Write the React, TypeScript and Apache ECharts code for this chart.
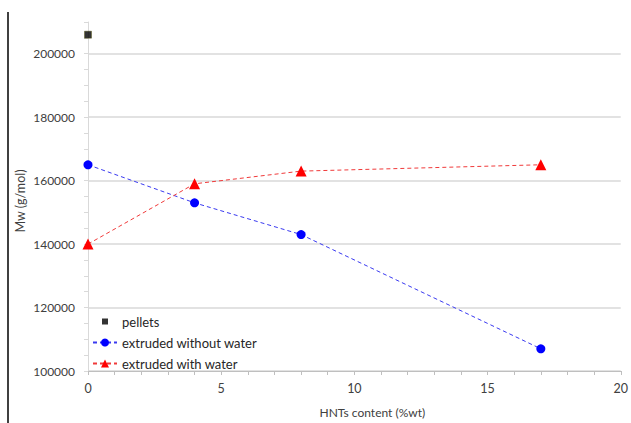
import React, { useEffect, useRef } from "react";
import * as echarts from "echarts";

const hntsX = [0, 4, 8, 17];
const pellets = [[0, 206000]];
const withoutWater = [165000, 153000, 143000, 107000];
const withWater = [140000, 159000, 163000, 165000];
const seriesNames = ["pellets", "extruded without water", "extruded with water"];
const yTitle = "Mw (g/mol)";
const xTitle = "HNTs content (%wt)";

const FONT = "Lato, 'Open Sans', sans-serif";

export default function App() {
  const ref = useRef<HTMLDivElement>(null);
  useEffect(() => {
    const chart = echarts.init(ref.current!, null, { renderer: "svg" });
    const grid = "#d9d9d9";
    chart.setOption({
      animation: false,
      backgroundColor: "#ffffff",
      textStyle: { fontFamily: FONT },
      grid: { left: 88, right: 8, top: 22, bottom: 51, containLabel: false },
      legend: {
        orient: "vertical",
        left: 87,
        top: 310,
        itemGap: 8,
        itemWidth: 24,
        itemHeight: 10,
        textStyle: { fontFamily: FONT, fontSize: 13, color: "#262626" },
        data: [
          {
            name: seriesNames[0],
            icon: "path://M9,2h6v6h-6z M0,0L24,0Z M0,10L24,10Z",
            itemStyle: { color: "#000000", borderWidth: 0, borderColor: "rgba(0,0,0,0)" },
          },
          { name: seriesNames[1] },
          { name: seriesNames[2] },
        ],
      },
      xAxis: {
        type: "value",
        min: 0,
        max: 20,
        interval: 5,
        name: xTitle,
        nameLocation: "middle",
        nameGap: 35,
        nameTextStyle: { fontFamily: FONT, fontSize: 12, color: "#404040", padding: [0, 0, 0, 36] },
        axisLine: { show: true, lineStyle: { color: "#bfbfbf" } },
        axisTick: { show: true, length: 4, lineStyle: { color: "#bfbfbf" } },
        minorTick: { show: true, splitNumber: 5, length: 4, lineStyle: { color: "#bfbfbf" } },
        axisLabel: { fontFamily: FONT, fontSize: 12.5, color: "#404040", margin: 11 },
        splitLine: { show: false },
      },
      yAxis: {
        type: "value",
        min: 100000,
        max: 210000,
        interval: 20000,
        axisLine: { show: true, lineStyle: { color: "#d9d9d9" } },
        axisTick: { show: true, inside: false, length: 4, lineStyle: { color: "#d9d9d9" } },
        minorTick: { show: true, splitNumber: 4, length: 4, lineStyle: { color: "#d9d9d9" } },
        axisLabel: {
          fontFamily: FONT,
          fontSize: 12,
          color: "#404040",
          margin: 13,
          formatter: (v: number) => (v > 200000 ? "" : String(v)),
        },
        splitLine: {
          show: true,
          lineStyle: { color: [grid, grid, grid, grid, grid, grid, "rgba(0,0,0,0)"], width: 1.5 },
        },
      },
      graphic: [
        {
          type: "line",
          shape: { x1: 8, y1: 12, x2: 8, y2: 423 },
          style: { stroke: "#000", lineWidth: 1.5 },
        },
        {
          type: "text",
          x: 20,
          y: 201,
          rotation: Math.PI / 2,
          style: {
            text: yTitle,
            fontFamily: FONT,
            fontSize: 12.5,
            fill: "#404040",
            align: "center",
            verticalAlign: "middle",
          },
        },
      ],
      series: [
        {
          name: seriesNames[0],
          type: "scatter",
          data: pellets,
          symbol: "rect",
          symbolSize: 7,
          itemStyle: { color: "#000000", borderColor: "#4a4a00", borderWidth: 0.5 },
        },
        {
          name: seriesNames[1],
          type: "line",
          data: hntsX.map((x, i) => [x, withoutWater[i]]),
          symbol: "circle",
          symbolSize: 9,
          itemStyle: { color: "#0000ff" },
          lineStyle: { color: "#3a3af0", width: 1, type: [4, 3] },
        },
        {
          name: seriesNames[2],
          type: "line",
          data: hntsX.map((x, i) => [x, withWater[i]]),
          symbol: "triangle",
          symbolSize: 11,
          itemStyle: { color: "#ff0000" },
          lineStyle: { color: "#f03a3a", width: 1, type: [4, 3] },
        },
      ],
    });
    return () => chart.dispose();
  }, []);
  return <div ref={ref} style={{ width: 631, height: 423, position: "absolute", left: 0, top: 0 }} />;
}
